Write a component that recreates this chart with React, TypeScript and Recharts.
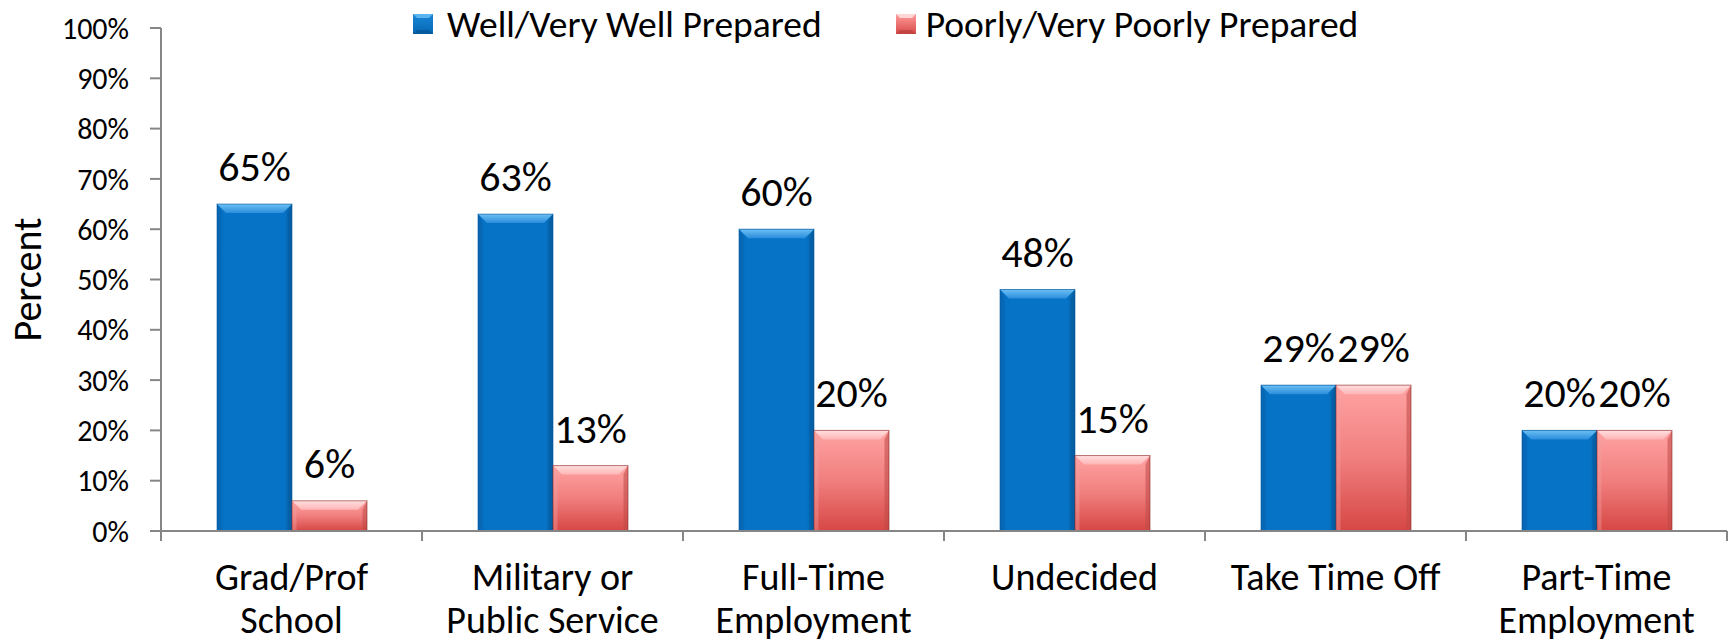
import React from 'react';
import { BarChart, Bar, XAxis, YAxis, Legend, LabelList } from 'recharts';

const categories = ['Grad/Prof School', 'Military or Public Service', 'Full-Time Employment', 'Undecided', 'Take Time Off', 'Part-Time Employment'];
const categoryLines = [['Grad/Prof', 'School'], ['Military or', 'Public Service'], ['Full-Time', 'Employment'], ['Undecided'], ['Take Time Off'], ['Part-Time', 'Employment']];
const wellPrepared = [65, 63, 60, 48, 29, 20];
const poorlyPrepared = [6, 13, 20, 15, 29, 20];
const yTicks = [0, 10, 20, 30, 40, 50, 60, 70, 80, 90, 100];

const data = categories.map((name, i) => ({
  name,
  well: wellPrepared[i],
  poorly: poorlyPrepared[i],
}));

const FONT = 'Carlito, Calibri, Lato, sans-serif';
const AXIS_COLOR = '#868686';

const BevelBar = (props: any) => {
  const { x, y, width, height, kind } = props;
  if (!height || height <= 0) return null;
  const b = Math.min(9, height / 2, width / 2);
  const isBlue = kind === 'blue';
  return (
    <g>
      <rect x={x} y={y} width={width} height={height} fill={isBlue ? 'url(#blueBody)' : 'url(#redBody)'} />
      {/* top bevel */}
      <polygon
        points={`${x},${y} ${x + width},${y} ${x + width - b},${y + b} ${x + b},${y + b}`}
        fill={isBlue ? 'url(#blueTop)' : 'url(#redTop)'}
      />
      {/* right bevel */}
      <polygon
        points={`${x + width},${y} ${x + width},${y + height} ${x + width - b / 2},${y + height} ${x + width - b / 2},${y + b}`}
        fill={isBlue ? '#0559a0' : '#c04846'}
        opacity={0.55}
      />
      {/* left bevel */}
      <polygon
        points={`${x},${y} ${x + b / 2},${y + b} ${x + b / 2},${y + height} ${x},${y + height}`}
        fill={isBlue ? '#0a62aa' : '#f2a0a0'}
        opacity={0.4}
      />
      <rect x={x} y={y} width={width} height={height} fill="none" stroke={isBlue ? '#05579a' : '#8a2a2a'} strokeWidth={1} strokeOpacity={0.6} />
    </g>
  );
};

const CategoryTick = (props: any) => {
  const { x, y, payload } = props;
  const half = payload.offset ?? 130.5;
  const lines = categoryLines[payload.index] || [payload.value];
  return (
    <g>
      <line x1={x - half} y1={y} x2={x - half} y2={y + 10} stroke={AXIS_COLOR} strokeWidth={2} />
      {payload.index === categories.length - 1 && (
        <line x1={x + half} y1={y} x2={x + half} y2={y + 10} stroke={AXIS_COLOR} strokeWidth={2} />
      )}
      {lines.map((ln: string, i: number) => (
        <text key={i} x={x} y={y + 59 + i * 43} textAnchor="middle" fontSize={38} fill="#000" fontFamily={FONT}>
          {ln}
        </text>
      ))}
    </g>
  );
};

const ValueLabel = (props: any) => {
  const { x, y, width, value } = props;
  return (
    <text x={x + width / 2} y={y - 23} textAnchor="middle" fontSize={42} fill="#000" fontFamily={FONT}>
      {`${value}%`}
    </text>
  );
};

const LegendSwatch = ({ kind }: { kind: string }) => (
  <svg width={20} height={20} style={{ display: 'block' }}>
    <rect x={0} y={0} width={20} height={20} fill={kind === 'blue' ? 'url(#blueBodyL)' : 'url(#redBodyL)'} />
    <polygon points="0,0 20,0 16,4 4,4" fill={kind === 'blue' ? '#5ab4f0' : '#ffd6d6'} />
    <polygon points="0,20 20,20 16,16 4,16" fill={kind === 'blue' ? '#04508e' : '#b23c3a'} opacity={0.6} />
    <defs>
      <linearGradient id="blueBodyL" x1="0" y1="0" x2="0" y2="1">
        <stop offset="0" stopColor="#1a86d6" />
        <stop offset="1" stopColor="#0568b4" />
      </linearGradient>
      <linearGradient id="redBodyL" x1="0" y1="0" x2="0" y2="1">
        <stop offset="0" stopColor="#ff9c9c" />
        <stop offset="1" stopColor="#d84a48" />
      </linearGradient>
    </defs>
  </svg>
);

const renderLegend = () => (
  <div style={{ display: 'flex', alignItems: 'center', fontFamily: FONT, fontSize: 37.5, color: '#000', lineHeight: '40px', whiteSpace: 'nowrap' }}>
    <LegendSwatch kind="blue" />
    <span style={{ marginLeft: 14, marginRight: 74 }}>Well/Very Well Prepared</span>
    <LegendSwatch kind="red" />
    <span style={{ marginLeft: 10 }}>Poorly/Very Poorly Prepared</span>
  </div>
);

const YLabel = (props: any) => {
  const { viewBox } = props;
  const cy = viewBox.y + viewBox.height / 2;
  return (
    <text x={27} y={cy} transform={`rotate(-90, 27, ${cy})`} textAnchor="middle" dominantBaseline="central" fontSize={40} fontFamily={FONT} fill="#000">
      Percent
    </text>
  );
};

export default function App() {
  return (
    <div style={{ position: 'absolute', left: 0, top: 0, width: 1732, height: 642, background: '#fff' }}>
      <BarChart width={1732} height={642} data={data} margin={{ top: 28, right: 5, bottom: 0, left: 0 }} barCategoryGap={56} barGap={0}>
        <defs>
          <linearGradient id="blueBody" x1="0" y1="0" x2="1" y2="0">
            <stop offset="0" stopColor="#0668b8" />
            <stop offset="0.1" stopColor="#0673c6" />
            <stop offset="0.9" stopColor="#0673c6" />
            <stop offset="1" stopColor="#05609f" />
          </linearGradient>
          <linearGradient id="blueTop" x1="0" y1="0" x2="0" y2="1">
            <stop offset="0" stopColor="#6cc0f4" />
            <stop offset="1" stopColor="#2b8ddc" />
          </linearGradient>
          <linearGradient id="redBody" x1="0" y1="0" x2="0" y2="1">
            <stop offset="0" stopColor="#ffa3a3" />
            <stop offset="0.5" stopColor="#f07f7e" />
            <stop offset="1" stopColor="#d64745" />
          </linearGradient>
          <linearGradient id="redTop" x1="0" y1="0" x2="0" y2="1">
            <stop offset="0" stopColor="#ffe0e0" />
            <stop offset="1" stopColor="#ffb4b4" />
          </linearGradient>
        </defs>
        <XAxis
          dataKey="name"
          axisLine={{ stroke: AXIS_COLOR, strokeWidth: 2 }}
          tickLine={false}
          tickSize={0}
          tickMargin={0}
          height={111}
          interval={0}
          tick={<CategoryTick />}
        />
        <YAxis
          domain={[0, 100]}
          ticks={yTicks}
          interval={0}
          width={161}
          tickFormatter={(v: number) => `${v}%`}
          axisLine={{ stroke: AXIS_COLOR, strokeWidth: 2 }}
          tickLine={{ stroke: AXIS_COLOR, strokeWidth: 2 }}
          tickSize={11}
          tickMargin={21}
          tick={{ fontSize: 30, fill: '#000', fontFamily: FONT }}
          label={<YLabel />}
        />
        <Legend
          layout="horizontal"
          verticalAlign="middle"
          align="center"
          content={renderLegend}
          wrapperStyle={{ position: 'absolute', left: 413, top: 4, width: 'auto' }}
        />
        <Bar dataKey="well" name="Well/Very Well Prepared" isAnimationActive={false} shape={(p: any) => <BevelBar {...p} kind="blue" />}>
          <LabelList dataKey="well" content={<ValueLabel />} />
        </Bar>
        <Bar dataKey="poorly" name="Poorly/Very Poorly Prepared" isAnimationActive={false} shape={(p: any) => <BevelBar {...p} kind="red" />}>
          <LabelList dataKey="poorly" content={<ValueLabel />} />
        </Bar>
      </BarChart>
    </div>
  );
}
